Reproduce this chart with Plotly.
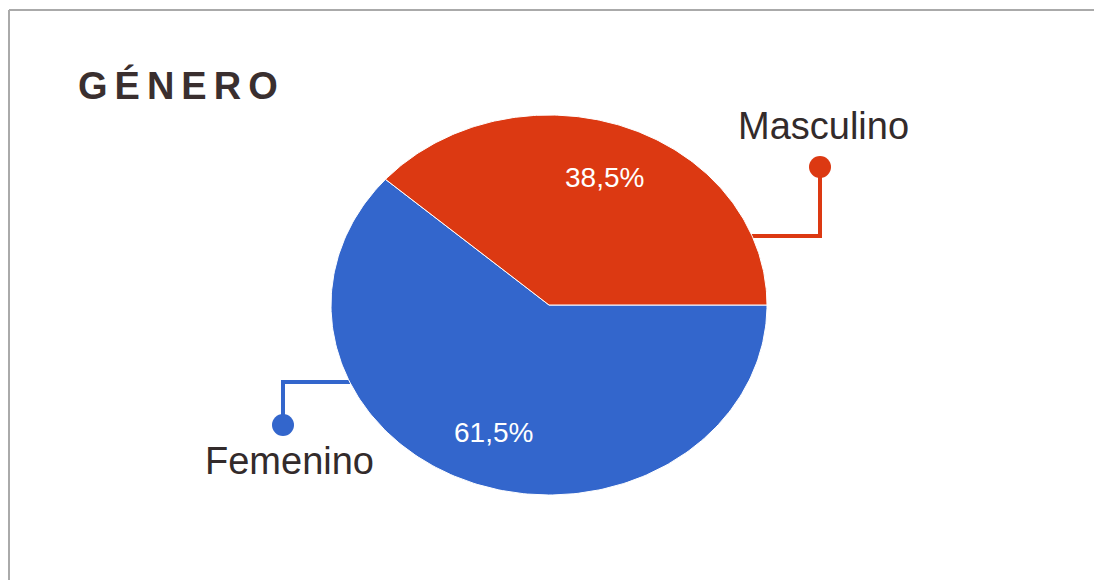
import numpy as np
import plotly.graph_objects as go

# data
labels = ["Femenino", "Masculino"]
values = [61.5, 38.5]
colors = ["#3366CC", "#DC3912"]

W, H = 1094, 580
cx, cy, rx, ry = 549, 305, 218, 190   # pie centre / radii in pixels

def to_xy(px, py):
    return (px - cx) / rx, (cy - py) / ry

fig = go.Figure()

# leader lines (drawn first, so the pie covers their inner ends)
leaders = {
    "Masculino": [(640, 236), (820, 236), (820, 167)],
    "Femenino": [(522, 382), (283, 382), (283, 425)],
}
label_pos = {"Masculino": (823, 126), "Femenino": (289, 461)}
for lab, col in zip(labels, colors):
    pts = [to_xy(*p) for p in leaders[lab]]
    fig.add_trace(go.Scatter(x=[p[0] for p in pts], y=[p[1] for p in pts], mode="lines",
                             line=dict(color=col, width=4), hoverinfo="skip"))
    fig.add_trace(go.Scatter(x=[pts[-1][0]], y=[pts[-1][1]], mode="markers",
                             marker=dict(color=col, size=22), hoverinfo="skip"))

# slices: start at 3 o'clock, go clockwise
total = sum(values)
start = 0.0
for lab, v, col in zip(labels, values, colors):
    sweep = 2 * np.pi * v / total
    t = np.linspace(start, start - sweep, 200)
    xs = np.concatenate([[0], np.cos(t), [0]])
    ys = np.concatenate([[0], np.sin(t), [0]])
    fig.add_trace(go.Scatter(x=xs, y=ys, mode="lines", fill="toself", fillcolor=col,
                             line=dict(color="white", width=1), name=lab, hoverinfo="skip"))
    mid = start - sweep / 2
    fig.add_annotation(x=0.72 * np.cos(mid), y=0.72 * np.sin(mid),
                       text=f"{v:.1f}%".replace(".", ","), showarrow=False,
                       font=dict(family="Liberation Sans, Arial", size=28, color="white"))
    lx, ly = to_xy(*label_pos[lab])
    fig.add_annotation(x=lx, y=ly, text=lab, showarrow=False,
                       font=dict(family="Liberation Sans, Arial", size=38, color="#332b2b"))
    start -= sweep

fig.add_annotation(xref="paper", yref="paper", x=76 / W, y=1 - 85 / H, xanchor="left", yanchor="middle",
                   text='<span style="letter-spacing:7px">GÉNERO</span>', showarrow=False,
                   font=dict(family="Liberation Sans, Arial", size=38, color="#3a2f2f", weight="bold"))

# frame (top and left edges)
fig.add_shape(type="line", xref="paper", yref="paper", x0=9 / W, x1=1, y0=1 - 10 / H, y1=1 - 10 / H,
              line=dict(color="#aaaaaa", width=2))
fig.add_shape(type="line", xref="paper", yref="paper", x0=9 / W, x1=9 / W, y0=0, y1=1 - 10 / H,
              line=dict(color="#aaaaaa", width=2))

fig.update_layout(
    width=W, height=H, margin=dict(l=0, r=0, t=0, b=0),
    paper_bgcolor="white", plot_bgcolor="white", showlegend=False,
    xaxis=dict(visible=False, range=[-cx / rx, (W - cx) / rx], fixedrange=True),
    yaxis=dict(visible=False, range=[(cy - H) / ry, cy / ry], fixedrange=True),
)

fig.write_html("out.html", config={"displayModeBar": False},
               post_script="document.body.style.margin='0px';")
